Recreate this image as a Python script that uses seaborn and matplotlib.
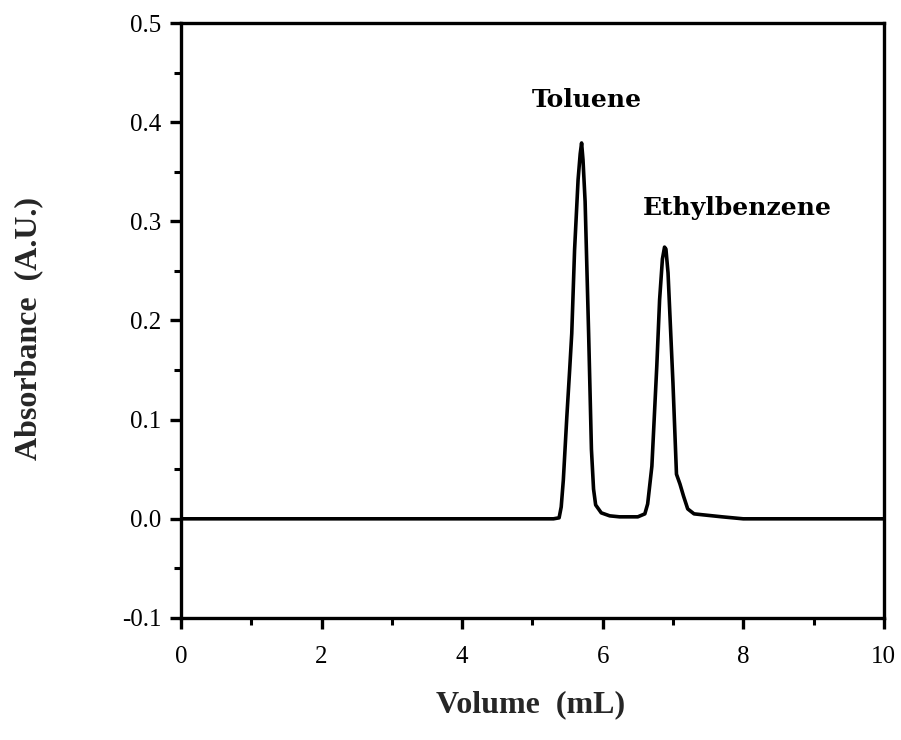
import matplotlib
matplotlib.use("Agg")
import matplotlib.pyplot as plt
from matplotlib.ticker import MultipleLocator
import seaborn as sns
import pandas as pd

# Chromatogram trace
volume_ml = [0.0, 2.0, 4.0, 5.30, 5.38, 5.41, 5.44, 5.49, 5.53, 5.56, 5.60, 5.65,
             5.68, 5.70, 5.72, 5.75, 5.80, 5.84, 5.87, 5.90, 5.98, 6.10, 6.24,
             6.50, 6.60, 6.64, 6.70, 6.77, 6.81, 6.85, 6.88, 6.90, 6.93, 7.00,
             7.05, 7.10, 7.15, 7.21, 7.30, 7.43, 7.70, 8.0, 10.0]
absorbance = [0.0, 0.0, 0.0, 0.0, 0.001, 0.012, 0.039, 0.103, 0.150, 0.187, 0.271,
              0.342, 0.368, 0.379, 0.362, 0.320, 0.187, 0.070, 0.030, 0.014,
              0.006, 0.003, 0.002, 0.002, 0.005, 0.015, 0.053, 0.154, 0.221,
              0.262, 0.274, 0.272, 0.248, 0.137, 0.045, 0.035, 0.023, 0.010,
              0.005, 0.004, 0.002, 0.0, 0.0]

peak_labels = ["Toluene", "Ethylbenzene"]
peak_label_x = [5.78, 7.92]
peak_label_y = [0.415, 0.306]

x_ticks = [0, 2, 4, 6, 8, 10]
y_ticks = [-0.1, 0.0, 0.1, 0.2, 0.3, 0.4, 0.5]

df = pd.DataFrame({"Volume": volume_ml, "Absorbance": absorbance})

sns.set_style("ticks")
plt.rcParams["font.family"] = ["Liberation Serif", "DejaVu Serif"]

fig = plt.figure(figsize=(9.01, 7.40), dpi=100)
ax = fig.add_axes([0.2009, 0.1649, 0.7800, 0.8040])

sns.lineplot(data=df, x="Volume", y="Absorbance", ax=ax, color="black",
             linewidth=2.6, estimator=None, sort=False)

ax.set_xlim(0, 10)
ax.set_ylim(-0.1, 0.5)
ax.set_xticks(x_ticks)
ax.set_xticklabels([str(t) for t in x_ticks])
ax.set_yticks(y_ticks)
ax.set_yticklabels([f"{t:.1f}" for t in y_ticks])
ax.xaxis.set_minor_locator(MultipleLocator(1))
ax.yaxis.set_minor_locator(MultipleLocator(0.05))

for s in ax.spines.values():
    s.set_linewidth(2.4)
    s.set_color("black")
    s.set_visible(True)

ax.tick_params(which="major", direction="out", length=8, width=2.4,
               labelsize=18, colors="black")
ax.tick_params(axis="x", which="major", pad=12)
ax.tick_params(axis="y", which="major", pad=6)
ax.tick_params(which="minor", direction="out", length=5, width=2.2, colors="black")

ax.set_xlabel("Volume  (mL)", fontsize=23, fontweight="bold", labelpad=0)
ax.set_ylabel("Absorbance  (A.U.)", fontsize=23, fontweight="bold", labelpad=0)
ax.xaxis.set_label_coords(0.498, -0.121)
ax.yaxis.set_label_coords(-0.196, 0.487)

for lab, lx, ly in zip(peak_labels, peak_label_x, peak_label_y):
    ax.text(lx, ly, lab, fontsize=18, fontweight="bold", ha="center",
            va="baseline", color="black", family=["DejaVu Serif"])

fig.savefig("out.png", dpi=100)
